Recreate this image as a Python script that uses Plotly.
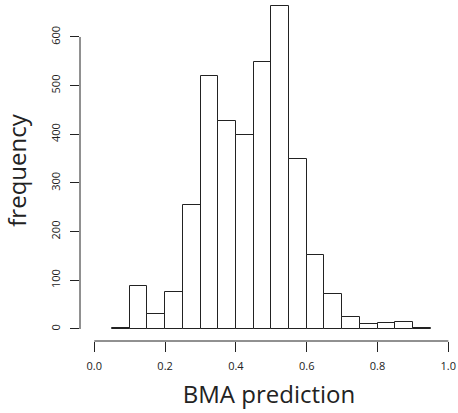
import plotly.graph_objects as go

bin_starts = [0.05, 0.10, 0.15, 0.20, 0.25, 0.30, 0.35, 0.40, 0.45,
              0.50, 0.55, 0.60, 0.65, 0.70, 0.75, 0.80, 0.85, 0.90]
bin_width = 0.05
counts = [2, 89, 31, 77, 254, 520, 427, 398, 549,
          664, 349, 153, 72, 25, 11, 12, 14, 3]
x_ticks = [0.0, 0.2, 0.4, 0.6, 0.8, 1.0]
x_tick_labels = ["0.0", "0.2", "0.4", "0.6", "0.8", "1.0"]
y_ticks = [0, 100, 200, 300, 400, 500, 600]
x_title = "BMA prediction"
y_title = "frequency"

centers = [s + bin_width / 2 for s in bin_starts]

fig = go.Figure()
fig.add_trace(go.Bar(
    x=centers, y=counts, width=[bin_width] * len(counts),
    marker=dict(color="white", line=dict(color="#222222", width=1)),
    showlegend=False, hoverinfo="skip",
))

font_family = "Open Sans, Noto Sans, sans-serif"

fig.update_layout(
    width=458, height=413,
    margin=dict(l=80, r=0, t=0, b=72, autoexpand=False),
    paper_bgcolor="white", plot_bgcolor="white",
    bargap=0,
    font=dict(family=font_family, color="#222222"),
    xaxis=dict(
        range=[-0.0404, 1.0274], showgrid=False, zeroline=False, showline=False,
        automargin=False,
        tickmode="array", tickvals=x_ticks, ticktext=x_tick_labels,
        ticks="outside", ticklen=10, tickwidth=1, tickcolor="#222222",
        tickfont=dict(size=11, family=font_family, color="#222222"),
        ticklabelstandoff=5,
        title=dict(text=x_title, font=dict(size=24, family=font_family, color="#222222"), standoff=13),
    ),
    yaxis=dict(
        range=[-24.7, 676], showgrid=False, zeroline=False, showline=False,
        automargin=False,
        tickmode="array", tickvals=y_ticks, ticktext=[str(v) for v in y_ticks],
        ticks="outside", ticklen=9, tickwidth=1, tickcolor="#222222",
        tickangle=-90,
        tickfont=dict(size=11, family=font_family, color="#222222"),
        ticklabelstandoff=6,
        title=dict(text=y_title, font=dict(size=24, family=font_family, color="#222222"), standoff=14),
    ),
    shapes=[
        dict(type="line", xref="x", yref="paper", x0=x_ticks[0], x1=x_ticks[-1], y0=0, y1=0,
             line=dict(color="#222222", width=1)),
        dict(type="line", xref="paper", yref="y", x0=0, x1=0, y0=y_ticks[0], y1=y_ticks[-1],
             line=dict(color="#222222", width=1)),
    ],
)

fig.write_html("out.html", config={"displayModeBar": False},
               post_script="document.body.style.margin='0';")
